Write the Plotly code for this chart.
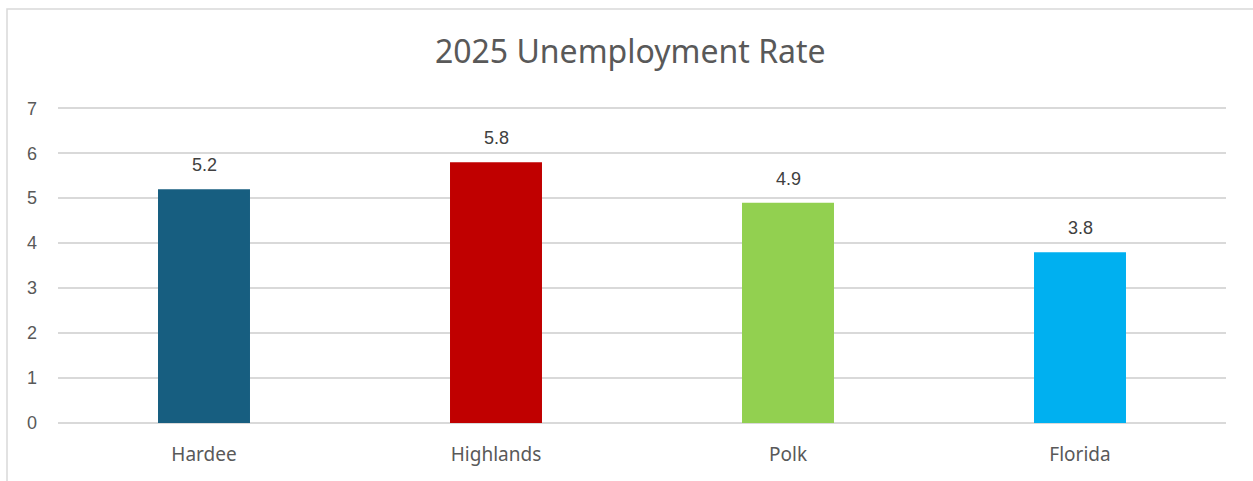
import plotly.graph_objects as go

# Unemployment rate by area, 2025
areas = ["Hardee", "Highlands", "Polk", "Florida"]
rates = [5.2, 5.8, 4.9, 3.8]
bar_colors = ["#175E80", "#C00000", "#92D050", "#00B0F0"]
y_ticks = [0, 1, 2, 3, 4, 5, 6, 7]

W, H = 1253, 481
ML, MR, MT, MB = 58, 27, 106, 58
plot_w = W - ML - MR
plot_h = H - MT - MB

fig = go.Figure(
    go.Bar(
        x=areas,
        y=rates,
        marker=dict(color=bar_colors, line=dict(width=0)),
        hoverinfo="x+y",
    )
)

# value labels above each bar
for area, rate in zip(areas, rates):
    fig.add_annotation(
        x=area, y=rate, text=f"{rate:.1f}",
        showarrow=False, yanchor="bottom", yshift=12,
        font=dict(family="Liberation Sans, Arial", size=18, color="#404040"),
    )

# light frame around the chart area
fig.add_shape(
    type="rect", xref="paper", yref="paper",
    x0=(7 - ML) / plot_w, x1=1.2,
    y0=-0.6, y1=(H - MB - 9) / plot_h,
    line=dict(color="#D9D9D9", width=1.5), fillcolor="rgba(0,0,0,0)",
    layer="below",
)

fig.update_layout(
    width=W, height=H,
    margin=dict(l=ML, r=MR, t=MT, b=MB),
    paper_bgcolor="white", plot_bgcolor="white",
    bargap=0.685,
    showlegend=False,
    title=dict(
        text="2025 Unemployment Rate",
        x=0.503, xref="container", xanchor="center",
        y=1 - 52 / H, yanchor="middle",
        font=dict(family="Noto Sans, Open Sans, sans-serif", size=32, color="#595959"),
    ),
    xaxis=dict(
        showgrid=False, zeroline=False, showline=False,
        ticks="", ticklabelstandoff=18,
        tickfont=dict(family="Noto Sans, sans-serif", size=19, color="#595959"),
    ),
    yaxis=dict(
        range=[0, 7.05], tickvals=y_ticks,
        showgrid=True, gridcolor="#D9D9D9", gridwidth=1.5,
        zeroline=True, zerolinecolor="#D9D9D9", zerolinewidth=1.5,
        showline=False, ticks="", ticklabelstandoff=20,
        tickfont=dict(family="Liberation Sans, Arial", size=18, color="#595959"),
    ),
)

fig.write_html("out.html")
